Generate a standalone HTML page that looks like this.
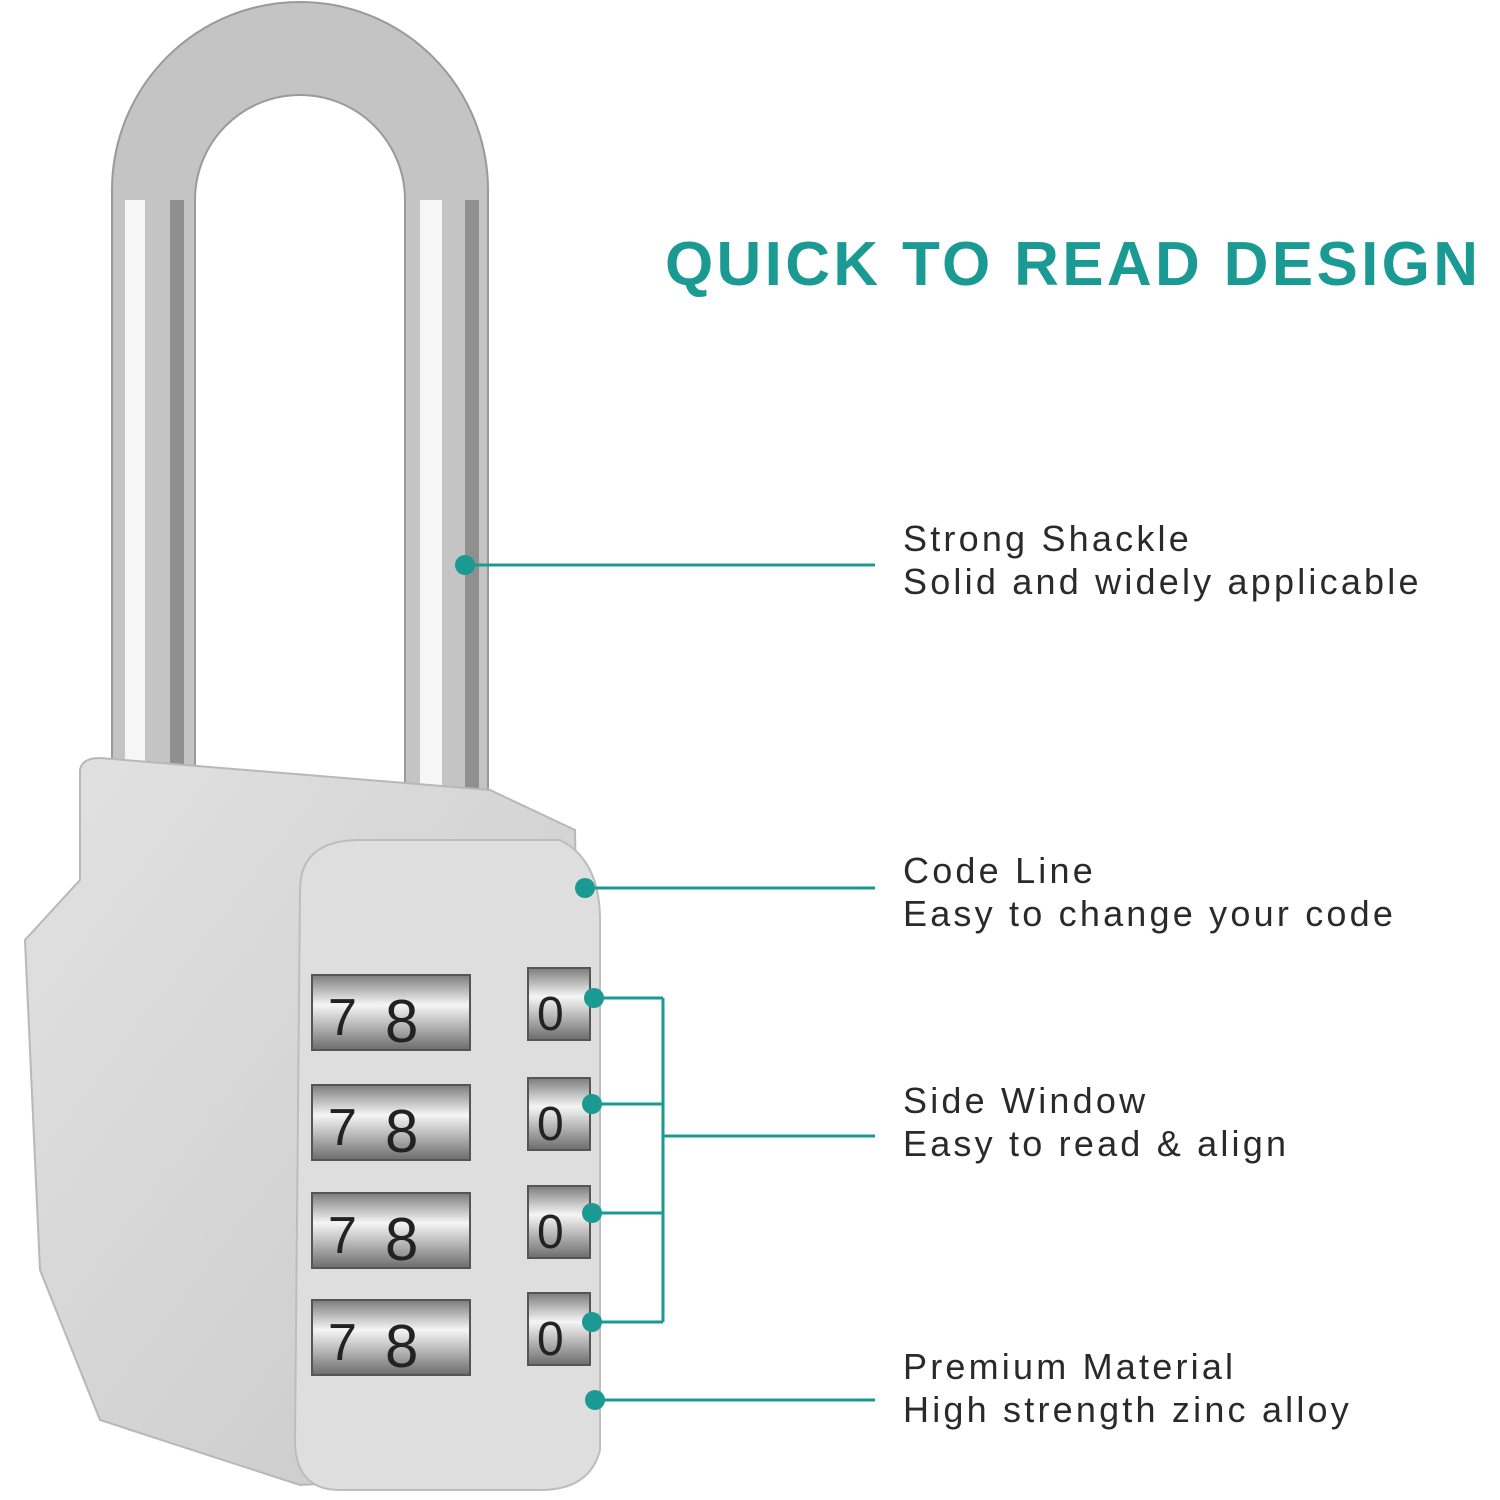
<!DOCTYPE html>
<html><head><meta charset="utf-8"><style>
html,body{margin:0;padding:0;background:#fff;}
body{width:1500px;height:1500px;overflow:hidden;position:relative;font-family:"Liberation Sans",sans-serif;}
.t{position:absolute;color:#2a2a2a;font-size:36px;line-height:43px;letter-spacing:3.2px;white-space:nowrap;}
</style></head><body>
<svg width="1500" height="1500" style="position:absolute;left:0;top:0">
<defs>
<linearGradient id="bd" x1="0" x2="1" y1="0" y2="1">
<stop offset="0" stop-color="#e2e2e2"/><stop offset="1" stop-color="#c8c8c8"/>
</linearGradient>
<linearGradient id="dl" x1="0" x2="0" y1="0" y2="1">
<stop offset="0" stop-color="#7c7c7c"/><stop offset="0.4" stop-color="#f5f5f5"/><stop offset="1" stop-color="#6c6c6c"/>
</linearGradient>
</defs>
<path d="M112,800 L112,190 A188,188 0 0 1 488,190 L488,800 L405,800 L405,200 A105,105 0 0 0 195,200 L195,800 Z" fill="#c4c4c4" stroke="#9a9a9a" stroke-width="2"/>
<rect x="125" y="200" width="20" height="590" fill="#f6f6f6"/>
<rect x="420" y="200" width="22" height="590" fill="#f6f6f6"/>
<rect x="170" y="200" width="14" height="590" fill="#8f8f8f"/>
<rect x="465" y="200" width="14" height="590" fill="#8f8f8f"/>
<path d="M80,770 Q82,758 100,758 L490,790 L575,830 L585,1470 L300,1485 L100,1420 L40,1270 L25,940 L80,880 Z" fill="url(#bd)" stroke="#b8b8b8" stroke-width="2"/>
<path d="M300,890 Q300,840 360,840 L560,840 Q600,860 600,920 L600,1450 Q590,1490 540,1490 L340,1490 Q295,1490 295,1440 Z" fill="#dedede" stroke="#bdbdbd" stroke-width="2"/>
<g font-family="Liberation Sans,sans-serif" font-size="52" fill="#222">
<g id="d1"><rect x="312" y="975" width="158" height="75" fill="url(#dl)" stroke="#555" stroke-width="2"/>
<text x="328" y="1035">7</text><text x="385" y="1042" font-size="60">8</text>
<rect x="528" y="968" width="62" height="72" fill="url(#dl)" stroke="#555" stroke-width="2"/><text x="537" y="1030" font-size="48">0</text></g>
<use href="#d1" y="110"/><use href="#d1" y="218"/><use href="#d1" y="325"/>
</g>
<g stroke="#1b9a93" stroke-width="3" fill="none">
<line x1="465" y1="565" x2="875" y2="565"/>
<line x1="585" y1="888" x2="875" y2="888"/>
<line x1="594" y1="998" x2="663" y2="998"/>
<line x1="592" y1="1104" x2="663" y2="1104"/>
<line x1="592" y1="1213" x2="663" y2="1213"/>
<line x1="592" y1="1322" x2="663" y2="1322"/>
<line x1="663" y1="998" x2="663" y2="1322"/>
<line x1="663" y1="1136" x2="875" y2="1136"/>
<line x1="595" y1="1400" x2="875" y2="1400"/>
</g>
<g fill="#1b9a93">
<circle cx="465" cy="565" r="10"/><circle cx="585" cy="888" r="10"/>
<circle cx="594" cy="998" r="10"/><circle cx="592" cy="1104" r="10"/>
<circle cx="592" cy="1213" r="10"/><circle cx="592" cy="1322" r="10"/>
<circle cx="595" cy="1400" r="10"/>
</g>
<text x="665" y="285" font-family="Liberation Sans,sans-serif" font-weight="bold" font-size="62" fill="#1b9a93" textLength="813" lengthAdjust="spacing">QUICK TO READ DESIGN</text>
</svg>
<div class="t" style="left:903px;top:517px">Strong Shackle<br>Solid and widely applicable</div>
<div class="t" style="left:903px;top:849px">Code Line<br>Easy to change your code</div>
<div class="t" style="left:903px;top:1079px">Side Window<br>Easy to read &amp; align</div>
<div class="t" style="left:903px;top:1345px">Premium Material<br>High strength zinc alloy</div>
</body></html>
